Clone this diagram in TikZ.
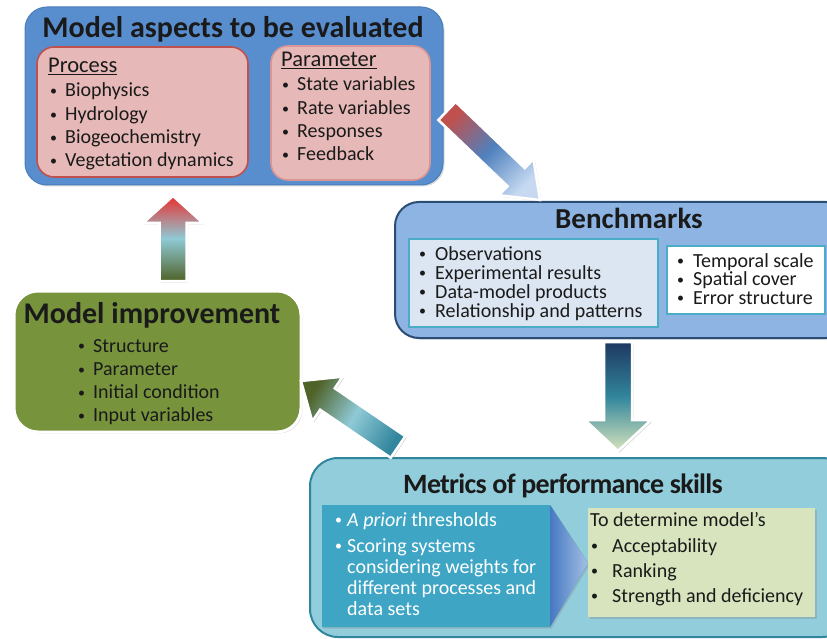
\documentclass[tikz,border=0pt]{standalone}
\usepackage{fontspec}
\setmainfont{Carlito}
\usetikzlibrary{calc,shadows}
\definecolor{txt}{RGB}{26,26,26}
\definecolor{topblue}{RGB}{88,141,206}
\definecolor{topblueb}{RGB}{74,126,187}
\definecolor{pinkf}{RGB}{230,185,184}
\definecolor{redb}{RGB}{192,80,77}
\definecolor{pinkb}{RGB}{217,150,148}
\definecolor{benchf}{RGB}{142,180,227}
\definecolor{benchb}{RGB}{43,76,116}
\definecolor{lightf}{RGB}{220,230,242}
\definecolor{tealb}{RGB}{75,172,198}
\definecolor{metf}{RGB}{146,205,220}
\definecolor{metb}{RGB}{49,133,156}
\definecolor{pentf}{RGB}{62,165,196}
\definecolor{greenf}{RGB}{215,228,189}
\definecolor{olive}{RGB}{119,147,60}
\definecolor{darkgreen}{RGB}{79,98,40}
\definecolor{navy}{RGB}{30,56,96}
\definecolor{arrred}{RGB}{192,80,77}
\definecolor{arrblue}{RGB}{79,129,189}
\definecolor{arrlight}{RGB}{198,217,241}
\definecolor{brightred}{RGB}{232,48,47}
\definecolor{lteal}{RGB}{143,202,214}
\definecolor{tipblue}{RGB}{70,120,195}
\definecolor{tiplight}{RGB}{165,192,228}
\newcommand\smallbul{\raisebox{1.2pt}{\fontsize{14}{14}\selectfont •}}
\tikzset{
  title/.style={inner sep=0pt, text=txt, font=\fontsize{30}{32}\selectfont\bfseries},
  head/.style={anchor=base west, inner sep=0pt, text=txt, font=\fontsize{22.5}{26}\selectfont},
  item/.style={anchor=base west, inner sep=0pt, text=txt, font=\fontsize{20}{23}\selectfont},
  witem/.style={anchor=base west, inner sep=0pt, text=white, font=\fontsize{20}{23}\selectfont},
  shadowy/.style={drop shadow={shadow xshift=1.5pt, shadow yshift=-1.5pt, opacity=0.3}},
  arrowbody/.style={draw=white, line width=2.5pt, line join=miter, shadowy},
}
\newcommand\blockarrow[6]{%
  \coordinate (ba-b) at ($(#3)!#6!(#2)$);
  \path[#1] ($(#2)!#4!90:(#3)$) -- ($(ba-b)!#4!90:(#3)$) -- ($(ba-b)!#5!90:(#3)$)
    -- (#3) -- ($(ba-b)!#5!-90:(#3)$) -- ($(ba-b)!#4!-90:(#3)$) -- ($(#2)!#4!-90:(#3)$) -- cycle;}
\newcommand\bulletlist[7]{%
  \foreach \t [count=\i] in {#7} {\node[#6] (#1\i) at (#2, {#4+(\i-1)*#5}) {\makebox[#3pt][l]{\smallbul}\t};}}
\begin{document}
\begin{tikzpicture}[x=1pt,y=-1pt]
\useasboundingbox (0,0) rectangle (827,639);

% ---------- Model aspects ----------
\node[fill=topblue, draw=topblueb, line width=1pt, rounded corners=22pt, minimum width=418pt, minimum height=178pt, inner sep=0pt, shadowy] (aspects) at (234,96) {};
\node[title, anchor=base] (aspectsT) at (233,38) {Model aspects to be evaluated};
\node[fill=pinkf, draw=redb, line width=1.6pt, rounded corners=17pt, minimum width=211pt, minimum height=130pt, inner sep=0pt] (process) at (142.5,112) {};
\node[fill=pinkf, draw=pinkb, line width=1.6pt, rounded corners=17pt, minimum width=159pt, minimum height=134pt, inner sep=0pt] (param) at (350.5,113) {};
\node[head] (processT) at (48,73) {\underline{Process}};
\node[head] (paramT) at (281,67) {\underline{Parameter}};
\bulletlist{pr}{50}{15}{97}{23.3}{item}{Biophysics,Hydrology,Biogeochemistry,Vegetation dynamics}
\bulletlist{pa}{282}{15}{91}{23.3}{item}{State variables,Rate variables,Responses,Feedback}

% ---------- Benchmarks ----------
\node[fill=benchf, draw=benchb, line width=2pt, rounded corners=24pt, minimum width=455pt, minimum height=136pt, inner sep=0pt, shadowy] (bench) at (622.5,270) {};
\node[title, anchor=base, font=\fontsize{29}{32}\selectfont\bfseries] (benchT) at (629,229) {Benchmarks};
\node[fill=lightf, draw=tealb, line width=2pt, minimum width=249pt, minimum height=88pt, inner sep=0pt] (benchL) at (533.5,283) {};
\node[fill=white, draw=tealb, line width=2pt, minimum width=158pt, minimum height=68pt, inner sep=0pt] (benchR) at (746,280) {};
\bulletlist{bl}{419}{16}{260}{19}{item}{Observations,Experimental results,Data-model products,Relationship and patterns}
\bulletlist{br}{677}{16}{267}{18.5}{item}{Temporal scale,Spatial cover,Error structure}

% ---------- Metrics ----------
\node[fill=metf, draw=metb, line width=2pt, rounded corners=28pt, minimum width=540pt, minimum height=179pt, inner sep=0pt] (metrics) at (580,547.5) {};
\node[title, anchor=base, font=\fontsize{28}{32}\selectfont\bfseries] (metricsT) at (563,493) {\addfontfeature{LetterSpace=-2.5}Metrics of performance skills};
\path[fill=pentf, shadowy] (322,505) coordinate (pent) -- (550,505) -- (588,563) coordinate (pentTip) -- (550,627) -- (322,627) -- cycle;
\shade[left color=tipblue, right color=tiplight] (550,505) -- (588,563) -- (550,627) -- cycle;
\node[fill=greenf, minimum width=227pt, minimum height=109pt, inner sep=0pt, shadowy] (green) at (701.5,562.5) {};
\node[witem] (m1) at (335,526) {\makebox[12pt][l]{\smallbul}\textit{A priori} thresholds};
\node[witem] (m2) at (335,552) {\makebox[12pt][l]{\smallbul}Scoring systems};
\node[witem] (m3) at (347,573.3) {considering weights for};
\node[witem] (m4) at (347,594.6) {different processes and};
\node[witem] (m5) at (347,615) {data sets};
\node[item] (g0) at (590,526) {To determine model’s};
\bulletlist{g}{591}{21}{552}{25}{item}{Acceptability,Ranking,Strength and deficiency}

% ---------- Model improvement ----------
\node[fill=olive, draw=white, line width=3pt, rounded corners=24pt, minimum width=287pt, minimum height=141pt, inner sep=0pt, shadowy] (improve) at (157.5,361.5) {};
\node[title, anchor=base] (improveT) at (152,323) {Model improvement};
\bulletlist{im}{78}{15}{352}{23.3}{item}{Structure,Parameter,Initial condition,Input variables}

% ---------- Arrows ----------
\coordinate (a1t) at (447,111); \coordinate (a1p) at (540,200);
\coordinate (a2t) at (618,342); \coordinate (a2p) at (618,451);
\coordinate (a3t) at (398,447); \coordinate (a3p) at (301,381);
\coordinate (a4t) at (173,281); \coordinate (a4p) at (173,196);
\blockarrow{arrowbody, top color=arrred, bottom color=arrlight, middle color=arrblue, shading angle=45}{a1t}{a1p}{12.5pt}{25pt}{33pt}
\blockarrow{arrowbody, top color=navy, bottom color=greenf, middle color=metb}{a2t}{a2p}{14pt}{33pt}{31pt}
\blockarrow{arrowbody, top color=darkgreen, bottom color=metb, middle color=lteal, shading angle=59}{a3t}{a3p}{13pt}{27pt}{32pt}
\blockarrow{arrowbody, top color=brightred, bottom color=darkgreen, middle color=lteal}{a4t}{a4p}{13.5pt}{30pt}{27pt}
\end{tikzpicture}
\end{document}
